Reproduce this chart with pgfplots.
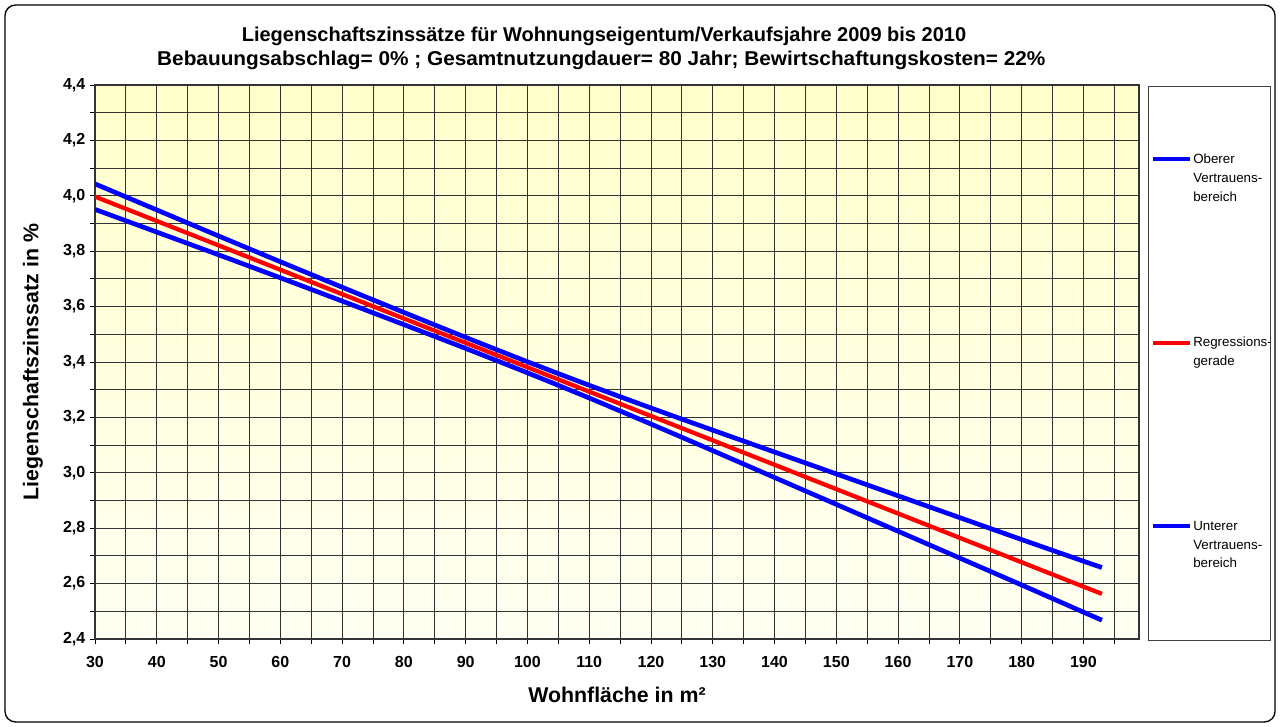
\documentclass[border=0pt]{standalone}
\usepackage{fontspec}
\setmainfont{Liberation Sans}
\usepackage{graphicx}
\usepackage{pgfplots}
\pgfplotsset{compat=1.18}
\definecolor{bgtop}{HTML}{FFFFCC}
\definecolor{bgbot}{HTML}{FFFFF3}
\definecolor{lblue}{HTML}{0000FF}
\definecolor{lred}{HTML}{FF0000}
\begin{document}
\begin{tikzpicture}
\path (0,0) rectangle (960pt,-545.25pt);
\draw[black, line width=1pt, rounded corners=8pt] (3.75pt,-3.75pt) rectangle (956.25pt,-541.5pt);
\node[anchor=base, font=\bfseries\fontsize{15}{17}\selectfont] at (453pt,-31.5pt) {Liegenschaftszinssätze für Wohnungseigentum/Verkaufsjahre 2009 bis 2010};
\node[anchor=base, font=\bfseries\fontsize{15}{17}\selectfont] at (451pt,-49.5pt) {\scalebox{1.04}[1]{Bebauungsabschlag= 0\% ; Gesamtnutzungdauer= 80 Jahr; Bewirtschaftungskosten= 22\%}};
\begin{axis}[
  at={(71.25pt,-479.25pt)}, anchor=south west,
  scale only axis, width=783pt, height=415.5pt,
  xmin=30, xmax=199, ymin=2.4, ymax=4.4,
  axis background/.style={top color=bgtop, bottom color=bgbot},
  xtick={30,40,...,190}, minor xtick={35,45,...,195},
  ytick={2.4,2.6,...,4.41}, minor ytick={2.5,2.7,...,4.31},
  grid=both,
  major grid style={black!80, line width=0.65pt},
  minor grid style={black!80, line width=0.65pt},
  tick pos=left, tick align=outside,
  major tick length=3.75pt, minor tick length=3.75pt,
  tick style={black, line width=0.65pt},
  axis line style={black!80, line width=0.8pt},
  /pgf/number format/assume math mode=true,
  ticklabel style={font=\bfseries\fontsize{12}{14}\selectfont},
  xticklabel style={yshift=-6pt, /pgf/number format/.cd, fixed, precision=0},
  yticklabel style={/pgf/number format/.cd, use comma, fixed, fixed zerofill, precision=1},
]
\addplot[lblue, line width=3.5pt, smooth, line join=round] coordinates {
(30,4.043) (40,3.949) (50,3.855) (60,3.762) (70,3.670) (80,3.579) (90,3.489) (100,3.401) (110,3.316) (120,3.234) (130,3.154) (140,3.075) (150,2.996) (160,2.917) (170,2.838) (180,2.759) (190,2.681) (193,2.658)};
\addplot[lred, line width=3.2pt, line join=round] coordinates {
(30,3.997) (40,3.909) (50,3.821) (60,3.733) (70,3.645) (80,3.557) (90,3.469) (100,3.381) (110,3.293) (120,3.205) (130,3.117) (140,3.029) (150,2.941) (160,2.853) (170,2.765) (180,2.677) (190,2.589) (193,2.563)};
\addplot[lblue, line width=3.5pt, smooth, line join=round] coordinates {
(30,3.951) (40,3.869) (50,3.787) (60,3.704) (70,3.620) (80,3.535) (90,3.449) (100,3.361) (110,3.270) (120,3.176) (130,3.080) (140,2.983) (150,2.886) (160,2.789) (170,2.692) (180,2.595) (190,2.497) (193,2.468)};
\end{axis}
\node[font=\bfseries\fontsize{16}{18}\selectfont] at (462.75pt,-521.25pt) {Wohnfläche in m²};
\node[rotate=90, font=\bfseries\fontsize{16}{18}\selectfont] at (24.75pt,-271.5pt) {Liegenschaftszinssatz in \%};
% legend
\draw[black!75, line width=0.75pt, fill=white] (861pt,-65.25pt) rectangle (952.5pt,-480pt);
\begin{scope}[every node/.style={anchor=west, inner sep=0pt, font=\fontsize{10}{12}\selectfont}]
\draw[lblue, line width=3.2pt] (864.75pt,-119.25pt) -- (892.5pt,-119.25pt);
\node at (894.75pt,-119.25pt) {Oberer};
\node at (894.75pt,-133.5pt) {Vertrauens-};
\node at (894.75pt,-147.75pt) {bereich};
\draw[lred, line width=3.2pt] (864.75pt,-257.25pt) -- (892.5pt,-257.25pt);
\node at (894.75pt,-257.25pt) {Regressions-};
\node at (894.75pt,-271.5pt) {gerade};
\draw[lblue, line width=3.2pt] (864.75pt,-394.5pt) -- (892.5pt,-394.5pt);
\node at (894.75pt,-394.5pt) {Unterer};
\node at (894.75pt,-408.75pt) {Vertrauens-};
\node at (894.75pt,-422.25pt) {bereich};
\end{scope}
\end{tikzpicture}
\end{document}
